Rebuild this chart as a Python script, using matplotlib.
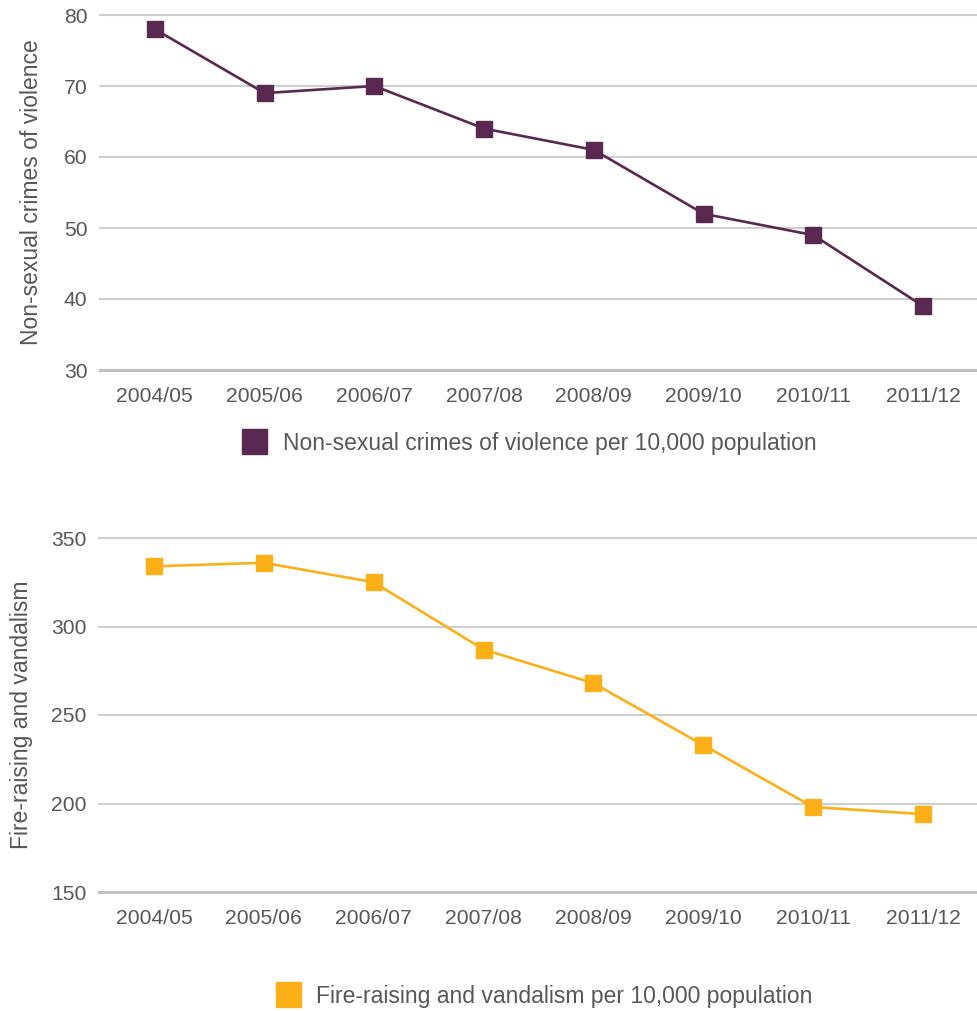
import matplotlib
matplotlib.use("Agg")
import matplotlib.pyplot as plt
from matplotlib.lines import Line2D

plt.rcParams['font.family'] = ['Liberation Sans', 'DejaVu Sans']

years = ["2004/05", "2005/06", "2006/07", "2007/08",
         "2008/09", "2009/10", "2010/11", "2011/12"]
violence = [78, 69, 70, 64, 61, 52, 49, 39]
vandalism = [334, 336, 325, 287, 268, 233, 198, 194]

violence_label = "Non-sexual crimes of violence per 10,000 population"
vandalism_label = "Fire-raising and vandalism per 10,000 population"

PURPLE = "#582850"
ORANGE = "#FDAF17"
GRID = "#cfcfcf"
TEXT = "#575757"

W, H = 978, 1011
fig = plt.figure(figsize=(W / 100, H / 100), dpi=100)


def make_axes(left_px, top_px, bottom_px):
    return fig.add_axes([left_px / W, 1 - bottom_px / H,
                         1 - left_px / W, (bottom_px - top_px) / H])


def style(ax, ylim, yticks, ylabel, label_x):
    ax.set_xlim(-0.5, len(years) - 0.5)
    ax.set_ylim(*ylim)
    ax.set_yticks(yticks)
    ax.set_xticks(range(len(years)))
    ax.set_xticklabels(years)
    for s in ("left", "right", "top"):
        ax.spines[s].set_visible(False)
    ax.spines["bottom"].set_color("#c0c0c0")
    ax.spines["bottom"].set_linewidth(2.2)
    ax.yaxis.grid(True, color=GRID, linewidth=1.5)
    for gl in ax.get_ygridlines():
        gl.set_clip_on(False)
    ax.set_axisbelow(True)
    ax.tick_params(axis="both", length=0, labelsize=15.2, colors=TEXT)
    ax.tick_params(axis="x", pad=12)
    ax.tick_params(axis="y", pad=9)
    ax.set_ylabel(ylabel, fontsize=16.5, color=TEXT)
    ax.yaxis.set_label_coords(label_x, 0.5)


def add_legend(color, text, cx_px, cy_px):
    handle = Line2D([], [], color=color, marker="s", markersize=18,
                    linestyle="None")
    fig.legend([handle], [text], loc="center",
               bbox_to_anchor=(cx_px / W, 1 - cy_px / H), frameon=False,
               fontsize=16.5, labelcolor=TEXT, handletextpad=0.7,
               handlelength=1.1)


x = range(len(years))

# Violence panel
ax1 = make_axes(100, 15, 370)
ax1.plot(x, violence, color=PURPLE, linewidth=1.9, marker="s",
         markersize=12, clip_on=False, zorder=3)
style(ax1, (30, 80), [30, 40, 50, 60, 70, 80],
      "Non-sexual crimes of violence", (43 - 100) / (W - 100))
add_legend(PURPLE, violence_label, 529, 443)

# Vandalism panel
ax2 = make_axes(99, 538, 892)
ax2.plot(x, vandalism, color=ORANGE, linewidth=1.9, marker="s",
         markersize=12, clip_on=False, zorder=3)
style(ax2, (150, 350), [150, 200, 250, 300, 350],
      "Fire-raising and vandalism", (33 - 99) / (W - 99))
add_legend(ORANGE, vandalism_label, 544, 996)

fig.savefig("out.png", dpi=100)
